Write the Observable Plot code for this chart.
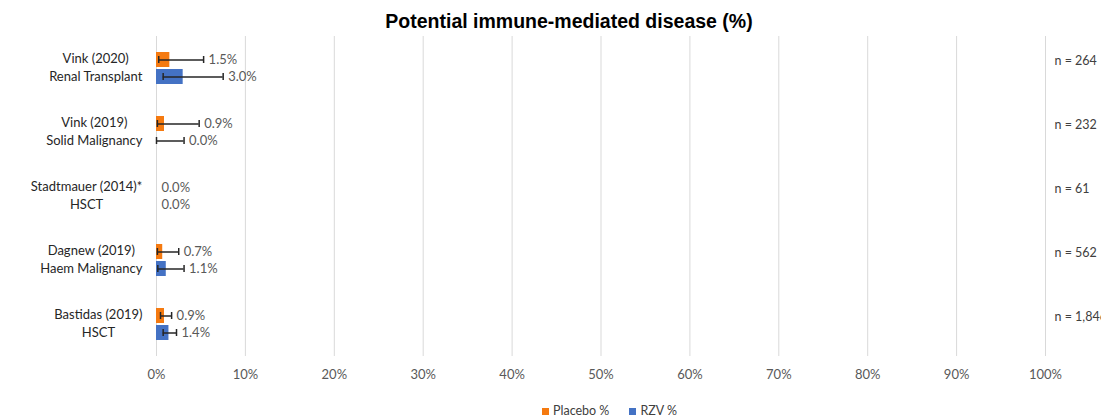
<!DOCTYPE html>
<html>
<head>
<meta charset="utf-8">
<script src="https://cdn.jsdelivr.net/npm/d3@7"></script>
<script src="https://cdn.jsdelivr.net/npm/@observablehq/plot@0.6"></script>
<style>
  html, body { margin: 0; padding: 0; background: #fff; }
  #chart { position: relative; width: 1101px; height: 419px; overflow: hidden; font-family: Lato, "Open Sans", sans-serif; }
  #title { position: absolute; top: 10px; left: 0; width: 1138px; text-align: center;
           font: bold 19.5px "Liberation Sans", Arial, sans-serif; color: #000; }
  #plot { position: absolute; top: 34px; left: 0; }
  #legend { position: absolute; top: 403px; left: 542px; font-size: 12.5px; color: #404040; display: flex; gap: 20px; white-space: nowrap; }
  #legend span.sw { display: inline-block; width: 7px; height: 7px; margin-right: 4px; vertical-align: 0px; }
</style>
</head>
<body>
<div id="chart">
  <div id="title">Potential immune-mediated disease (%)</div>
  <div id="plot"></div>
  <div id="legend"></div>
</div>
<script>
// Studies (top to bottom), sample sizes and the two arms
const studies = [
  "Vink (2020)\nRenal Transplant",
  "Vink (2019)\nSolid Malignancy",
  "Stadtmauer (2014)*\nHSCT",
  "Dagnew (2019)\nHaem Malignancy",
  "Bastidas (2019)\nHSCT"
];
const sampleSizes = ["n = 264", "n = 232", "n = 61", "n = 562", "n = 1,846"];
const series = ["Placebo %", "RZV %"];
const seriesColors = ["#F57A10", "#4472C4"];

// Point estimates (%) with 95% CI bounds (null = no interval shown)
const placeboPct  = [1.5, 0.9, 0.0, 0.7, 0.9];
const placeboLow  = [0.25, 0.1, null, 0.1, 0.45];
const placeboHigh = [5.3, 4.8, null, 2.5, 1.7];
const rzvPct      = [3.0, 0.0, 0.0, 1.1, 1.4];
const rzvLow      = [0.75, 0.0, null, 0.15, 0.75];
const rzvHigh     = [7.5, 3.1, null, 3.1, 2.25];

const xTicks = d3.range(0, 101, 10);

// Long table: one row per study × arm
const rows = studies.flatMap((study, i) => [
  {study, series: series[0], value: placeboPct[i], low: placeboLow[i], high: placeboHigh[i]},
  {study, series: series[1], value: rzvPct[i], low: rzvLow[i], high: rzvHigh[i]}
]);
const withCI = rows.filter(d => d.low != null);

// Measure label widths so each two-line label block is right-aligned, lines centred
const labelSize = 13;
const ctx = document.createElement("canvas").getContext("2d");
ctx.font = `${labelSize}px Lato`;
const blockWidth = s => Math.max(...s.split("\n").map(l => ctx.measureText(l).width));

const labelMarks = studies.map(s => Plot.text([s], {
  fy: d => d, text: d => d, frameAnchor: "left", textAnchor: "middle",
  dx: -(14 + blockWidth(s) / 2), dy: -2, lineHeight: 1.35, fontSize: labelSize, fill: "#262626"
}));

const plot = Plot.plot({
  width: 1101,
  height: 356,
  marginLeft: 156,
  marginRight: 56,
  marginTop: 0,
  marginBottom: 32,
  style: {fontFamily: "Lato, 'Open Sans', sans-serif", fontSize: "13px", color: "#595959", background: "#fff"},
  x: {domain: [0, 100], ticks: xTicks, tickFormat: d => d + "%", tickSize: 0, tickPadding: 13, label: null},
  y: {axis: null, domain: series, paddingInner: 0.1, paddingOuter: 0.85},
  fy: {axis: null, domain: studies, padding: 0},
  color: {domain: series, range: seriesColors},
  marks: [
    Plot.ruleX(xTicks, {x: d => d, stroke: "#D9D9D9", strokeWidth: 1}),
    Plot.barX(rows, {x: "value", y: "series", fy: "study", fill: "series"}),
    Plot.ruleY(withCI, {x1: "low", x2: "high", y: "series", fy: "study", stroke: "#262626", strokeWidth: 1.5}),
    Plot.tickX(withCI, {x: "low", y: "series", fy: "study", stroke: "#262626", strokeWidth: 1.5, insetTop: 4, insetBottom: 4}),
    Plot.tickX(withCI, {x: "high", y: "series", fy: "study", stroke: "#262626", strokeWidth: 1.5, insetTop: 4, insetBottom: 4}),
    Plot.text(rows, {
      x: d => Math.max(d.value, d.high ?? 0), y: "series", fy: "study",
      text: d => d.value.toFixed(1) + "%", textAnchor: "start", dx: 5,
      fontSize: 13, fill: "#595959"
    }),
    ...labelMarks,
    Plot.text(studies.map((s, i) => ({study: s, n: sampleSizes[i], series: series[0]})), {
      fy: "study", y: "series", text: "n", frameAnchor: "right", textAnchor: "start", dx: 9, dy: 1,
      fontSize: 12.5, fill: "#404040"
    })
  ]
});
document.getElementById("plot").appendChild(plot);

// Legend
const legend = document.getElementById("legend");
series.forEach((s, i) => {
  const item = document.createElement("div");
  item.innerHTML = `<span class="sw" style="background:${seriesColors[i]}"></span>${s}`;
  legend.appendChild(item);
});
</script>
</body>
</html>
